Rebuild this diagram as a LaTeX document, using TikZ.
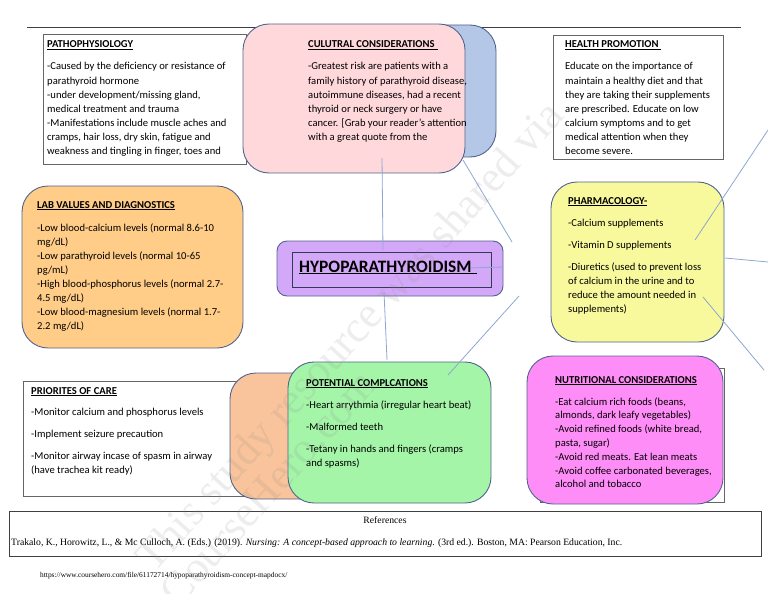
\documentclass[tikz,border=0pt]{standalone}
\usepackage{fontspec}
\setmainfont{Carlito}
\newfontfamily\refserif{Liberation Serif}
\usetikzlibrary{calc}

\definecolor{pinkfill}{HTML}{FFD8DC}
\definecolor{bluefill}{HTML}{B4C7E7}
\definecolor{labfill}{HTML}{FFCD88}
\definecolor{corefill}{HTML}{D4A8F8}
\definecolor{pharmfill}{HTML}{F8F89C}
\definecolor{peachfill}{HTML}{F9C39B}
\definecolor{compfill}{HTML}{A4F5A8}
\definecolor{nutrifill}{HTML}{FF8DF8}
\definecolor{edgec}{HTML}{50648F}
\definecolor{linkc}{HTML}{8EA6D2}

\newcommand{\hdr}[1]{\textbf{\underline{#1}}}
% lines hang from the first baseline
\newcommand{\lines}[1]{\begin{tabular}[t]{@{}l@{}}#1\end{tabular}}

\begin{document}
\begin{tikzpicture}[x=1pt,y=-1pt,
  bubble/.style={draw=edgec,line width=0.9pt,rounded corners=26pt},
  plainbox/.style={draw=black!60,line width=0.9pt,fill=white},
  link/.style={draw=linkc,line width=0.8pt},
  txt/.style={anchor=base west,inner sep=0pt,
    font=\fontsize{10.6}{14.1}\selectfont},
  wmark/.style={rotate=48,text=black!45,text opacity=0.16,
    font=\refserif\fontsize{44}{48}\selectfont}]
  \useasboundingbox (0,0) rectangle (768,594);
  \draw[black!75,line width=0.9pt] (27,27)--(741,27);
  % boxes
  \draw[plainbox] (43,34) rectangle (246,164);
  \draw[plainbox] (553,35) rectangle (723,159);
  \draw[bubble,fill=bluefill] (330,25) rectangle (496,157);
  \draw[bubble,fill=pinkfill] (243,24) rectangle (465,173);
  \draw[bubble,fill=labfill] (22,186) rectangle (243,348);
  \draw[bubble,rounded corners=10pt,fill=corefill] (277,241) rectangle (503,296);
  \draw[edgec!60!black,line width=0.9pt] (292,252) rectangle (491,287);
  \draw[bubble,fill=pharmfill] (551,182) rectangle (724,342);
  \draw[plainbox] (23,381) rectangle (250,496);
  \draw[bubble,fill=peachfill] (230,373) rectangle (340,499);
  \draw[bubble,fill=compfill] (288,362) rectangle (491,503);
  \draw[plainbox] (540,368) rectangle (724,502);
  \draw[bubble,fill=nutrifill] (527,356) rectangle (723,504);
  \draw[black!75,line width=0.9pt] (9,511) rectangle (761,556);
  % connectors
  \coordinate (cultLow) at (382,158);
  \coordinate (coreTop) at (383,250);
  \coordinate (coreLow) at (384,292);
  \coordinate (compTop) at (387,360);
  \coordinate (cultCorner) at (463,160);
  \coordinate (coreNE) at (512,242);
  \coordinate (coreSE) at (519,296);
  \coordinate (compNE) at (448,375);
  \coordinate (titleEnd) at (470,268);
  \coordinate (coreEast) at (503,267);
  \coordinate (pharmIn) at (695,240);
  \coordinate (offNE) at (768,130);
  \coordinate (pharmEast) at (725,258);
  \coordinate (offE) at (768,262);
  \coordinate (pharmLow) at (703,297);
  \coordinate (offSE) at (764,370);
  \draw[link] (cultLow)--(coreTop);
  \draw[link] (coreLow)--(compTop);
  \draw[link] (cultCorner)--(coreNE);
  \draw[link] (coreSE)--(compNE);
  \draw[link] (titleEnd)--(coreEast);
  \draw[link] (pharmIn)--(offNE);
  \draw[link] (pharmEast)--(offE);
  \draw[link] (pharmLow)--(offSE);
  % texts
  \node[txt] (pathHead) at (47,48) {\hdr{PATHOPHYSIOLOGY}};
  \node[txt] (pathText) at (47,70) {\lines{-Caused by the deficiency or resistance of\\
    parathyroid hormone\\ -under development/missing gland,\\
    medical treatment and trauma\\ -Manifestations include muscle aches and\\
    cramps, hair loss, dry skin, fatigue and\\ weakness and tingling in finger, toes and}};
  \node[txt] (cultHead) at (308,48) {\hdr{CULUTRAL CONSIDERATIONS\hspace{3pt}}};
  \node[txt] (cultText) at (308,70) {\lines{-Greatest risk are patients with a\\
    family history of parathyroid disease,\\ autoimmune diseases, had a recent\\
    thyroid or neck surgery or have\\ cancer. [Grab your reader's attention\\
    with a great quote from the}};
  \node[txt] (healthHead) at (565,48) {\hdr{HEALTH PROMOTION\hspace{3pt}}};
  \node[txt] (healthText) at (565,70) {\lines{Educate on the importance of\\
    maintain a healthy diet and that\\ they are taking their supplements\\
    are prescribed. Educate on low\\ calcium symptoms and to get\\
    medical attention when they\\ become severe.}};
  \node[txt] (labHead) at (37,208) {\hdr{LAB VALUES AND DIAGNOSTICS}};
  \node[txt] (labText) at (37,231) {\lines{-Low blood-calcium levels (normal 8.6-10\\
    mg/dL)\\ -Low parathyroid levels (normal 10-65\\ pg/mL)\\
    -High blood-phosphorus levels (normal 2.7-\\ 4.5 mg/dL)\\
    -Low blood-magnesium levels (normal 1.7-\\ 2.2 mg/dL)}};
  \node[txt,font=\fontsize{17.4}{20}\selectfont] (coreTitle) at (299,272)
    {\hdr{HYPOPARATHYROIDISM\hspace{5pt}}};
  \node[txt] (pharmHead) at (568,204) {\hdr{PHARMACOLOGY-}};
  \node[txt] (pharmText) at (568,226) {\lines{-Calcium supplements\\[7.9pt]
    -Vitamin D supplements\\[7.9pt] -Diuretics (used to prevent loss\\
    of calcium in the urine and to\\ reduce the amount needed in\\ supplements)}};
  \node[txt] (careHead) at (31,394) {\hdr{PRIORITES OF CARE}};
  \node[txt] (careText) at (31,415) {\lines{-Monitor calcium and phosphorus levels\\[7.9pt]
    -Implement seizure precaution\\[7.9pt]
    -Monitor airway incase of spasm in airway\\ (have trachea kit ready)}};
  \node[txt] (compHead) at (306,386) {\hdr{POTENTIAL COMPLCATIONS}};
  \node[txt] (compText) at (306,408) {\lines{-Heart arrythmia (irregular heart beat)\\[7.9pt]
    -Malformed teeth\\[7.9pt] -Tetany in hands and fingers (cramps\\ and spasms)}};
  \node[txt] (nutriHead) at (555,383) {\hdr{NUTRITIONAL CONSIDERATIONS}};
  \node[txt,font=\fontsize{10.6}{13.8}\selectfont] (nutriText) at (555,405)
    {\lines{-Eat calcium rich foods (beans,\\ almonds, dark leafy vegetables)\\
    -Avoid refined foods (white bread,\\ pasta, sugar)\\
    -Avoid red meats. Eat lean meats\\ -Avoid coffee carbonated beverages,\\
    alcohol and tobacco}};
  \node[anchor=base,inner sep=0pt,font=\refserif\fontsize{9.7}{11}\selectfont]
    (refHead) at (385,523) {References};
  \node[anchor=base west,inner sep=0pt,font=\refserif\fontsize{9.7}{11}\selectfont]
    (refText) at (11,545) {Trakalo, K., Horowitz, L., \& Mc Culloch, A. (Eds.) (2019).
    \textit{Nursing: A concept-based approach to learning}. (3rd ed.). Boston, MA:
    Pearson Education, Inc.};
  \node[anchor=base west,inner sep=0pt,font=\refserif\fontsize{7.4}{8}\selectfont]
    (url) at (40,577) {https://www.coursehero.com/file/61172714/hypoparathyroidism-concept-mapdocx/};
  % watermark
  \node[wmark] (mark1) at (352,338) {This study resource was shared via};
  \node[wmark] (mark2) at (268,488) {CourseHero.com};
\end{tikzpicture}
\end{document}
